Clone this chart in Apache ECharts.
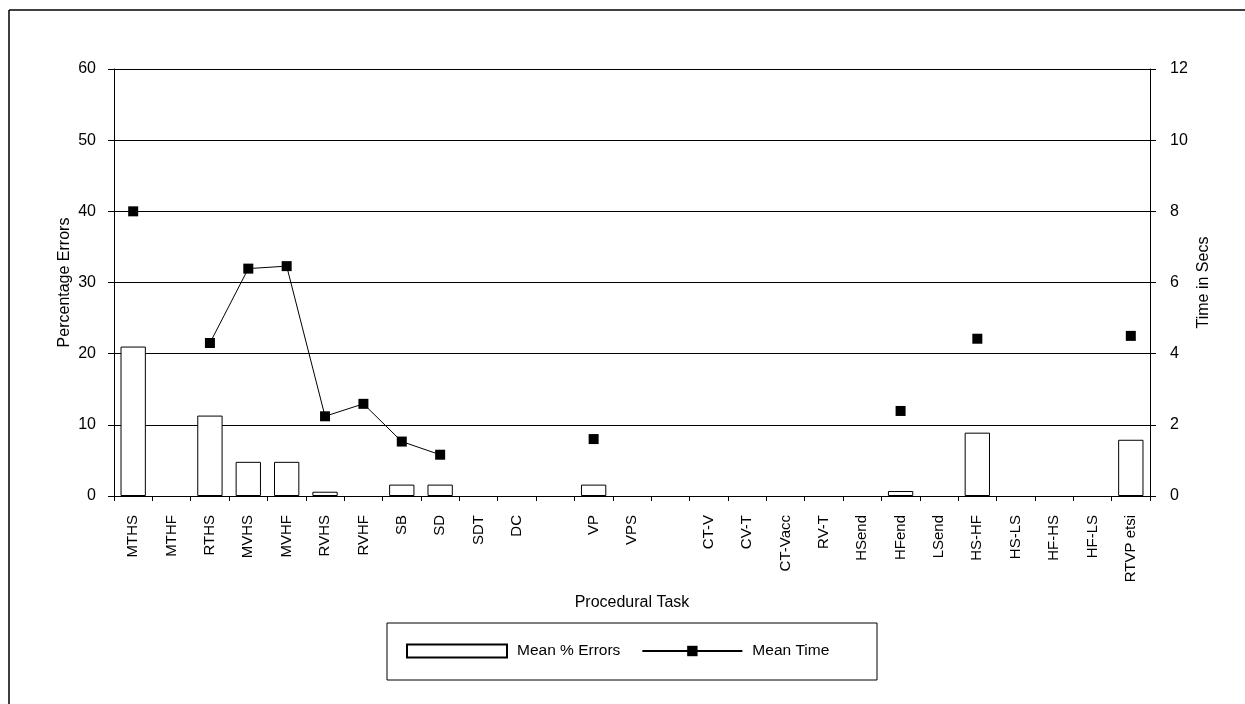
<!DOCTYPE html>
<html>
<head>
<meta charset="utf-8">
<script src="https://cdn.jsdelivr.net/npm/echarts@6/dist/echarts.min.js"></script>
<style>
  html, body { margin: 0; padding: 0; background: #fff; }
  #main { width: 1245px; height: 704px; }
</style>
</head>
<body>
<div id="main"></div>
<script>
var tasks = ['MTHS', 'MTHF', 'RTHS', 'MVHS', 'MVHF', 'RVHS', 'RVHF', 'SB', 'SD', 'SDT', 'DC', ' ',
  'VP', 'VPS', '  ', 'CT-V', 'CV-T', 'CT-Vacc', 'RV-T', 'HSend', 'HFend', 'LSend', 'HS-HF',
  'HS-LS', 'HF-HS', 'HF-LS', 'RTVP etsi'];
var meanErrors = [21, null, 11.3, 4.8, 4.8, 0.6, null, 1.6, 1.6, null, null, null,
  1.6, null, null, null, null, null, null, null, 0.7, null, 8.9,
  null, null, null, 7.9];
var meanTime = [8.0, null, 4.3, 6.39, 6.46, 2.24, 2.59, 1.53, 1.16, null, null, null,
  1.6, null, null, null, null, null, null, null, 2.39, null, 4.42,
  null, null, null, 4.5];
var errorTicks = { min: 0, max: 60, interval: 10 };
var timeTicks = { min: 0, max: 12, interval: 2 };

var chartDom = document.getElementById('main');
var myChart = echarts.init(chartDom);
var font = 'Liberation Sans, Arial, sans-serif';
var option;

option = {
  animation: false,
  textStyle: { fontFamily: font },
  grid: { left: 114, right: 95, top: 69, bottom: 208 },
  legend: {
    left: 406,
    top: 643,
    padding: 0,
    itemWidth: 100,
    itemHeight: 13,
    itemGap: 21,
    textStyle: { fontSize: 15.5, color: '#000', fontFamily: font, padding: [0, 0, 0, 5] },
    data: [{ name: 'Mean % Errors', icon: 'rect' }, { name: 'Mean Time' }]
  },
  // outer frame and legend box
  graphic: [
    { type: 'line', shape: { x1: 9, y1: 10, x2: 1245, y2: 10 }, style: { stroke: '#000', lineWidth: 1.5 } },
    { type: 'line', shape: { x1: 9, y1: 10, x2: 9, y2: 704 }, style: { stroke: '#000', lineWidth: 1.5 } },
    { type: 'rect', shape: { x: 387, y: 623, width: 490, height: 57 }, style: { fill: 'none', stroke: '#000', lineWidth: 1 } }
  ],
  xAxis: {
    type: 'category',
    data: tasks,
    name: 'Procedural Task',
    nameLocation: 'middle',
    nameGap: 99,
    nameTextStyle: { fontSize: 16, color: '#000' },
    axisLine: { lineStyle: { color: '#000', width: 1 } },
    axisTick: { show: true, length: 5, interval: 0, lineStyle: { color: '#000' } },
    axisLabel: { interval: 0, rotate: 90, fontSize: 15, color: '#000', margin: 19 }
  },
  yAxis: [
    {
      type: 'value',
      min: errorTicks.min,
      max: errorTicks.max,
      interval: errorTicks.interval,
      name: 'Percentage Errors',
      nameLocation: 'middle',
      nameRotate: 90,
      nameGap: 41,
      nameMoveOverlap: false,
      nameTextStyle: { fontSize: 16, color: '#000' },
      axisLine: { show: true, lineStyle: { color: '#000', width: 1 } },
      axisTick: { show: true, length: 6, lineStyle: { color: '#000' } },
      axisLabel: { fontSize: 16, color: '#000', margin: 18 },
      splitLine: { show: true, lineStyle: { color: '#000', width: 1 } }
    },
    {
      type: 'value',
      min: timeTicks.min,
      max: timeTicks.max,
      interval: timeTicks.interval,
      name: 'Time in Secs',
      nameLocation: 'middle',
      nameRotate: 90,
      nameGap: 46,
      nameMoveOverlap: false,
      nameTextStyle: { fontSize: 16, color: '#000' },
      axisLine: { show: true, lineStyle: { color: '#000', width: 1 } },
      axisTick: { show: true, length: 6, lineStyle: { color: '#000' } },
      axisLabel: { fontSize: 16, color: '#000', margin: 20 },
      splitLine: { show: false }
    }
  ],
  series: [
    {
      name: 'Mean % Errors',
      type: 'bar',
      yAxisIndex: 0,
      barWidth: '66%',
      itemStyle: { color: '#fff', borderColor: '#000', borderWidth: 1 },
      data: meanErrors
    },
    {
      name: 'Mean Time',
      type: 'line',
      yAxisIndex: 1,
      connectNulls: false,
      symbol: 'rect',
      symbolSize: 10,
      showAllSymbol: true,
      itemStyle: { color: '#000' },
      lineStyle: { color: '#000', width: 1 },
      data: meanTime
    }
  ]
};

option && myChart.setOption(option);
</script>
</body>
</html>
